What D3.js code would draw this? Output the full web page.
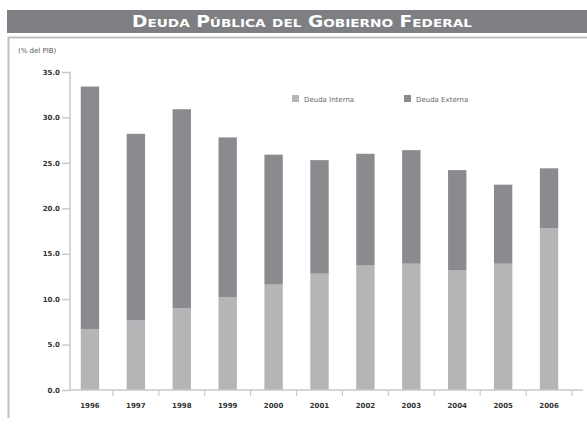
<!DOCTYPE html>
<html><head><meta charset="utf-8">
<script src="https://cdn.jsdelivr.net/npm/d3@7"></script>
<style>body{margin:0;background:#fff}</style>
</head><body>
<svg id="c" width="587" height="425"></svg>
<script>
const years = ["1996","1997","1998","1999","2000","2001","2002","2003","2004","2005","2006"];
const interna = [6.7, 7.7, 9.0, 10.2, 11.6, 12.8, 13.7, 13.9, 13.2, 13.9, 17.8];
const externa = [26.7, 20.5, 21.9, 17.6, 14.3, 12.5, 12.3, 12.5, 11.0, 8.7, 6.6];
const yTicks = [0,5,10,15,20,25,30,35];
const seriesNames = ["Deuda Interna","Deuda Externa"];
const colors = ["#b4b5b7","#8a8b8e"];

const svg = d3.select("#c");
// title bar
svg.append("rect").attr("x",7).attr("y",10).attr("width",580).attr("height",23).attr("fill","#7e7f82");
svg.append("text").attr("x",302).attr("y",27).attr("text-anchor","middle")
  .attr("fill","#fff").attr("font-family","DejaVu Sans").attr("font-weight","bold")
  .attr("font-size",15).style("font-variant","small-caps").attr("textLength",340).attr("lengthAdjust","spacingAndGlyphs")
  .text("Deuda Pública del Gobierno Federal");
// frame
svg.append("path").attr("d","M8.5,418 V37.5 H587").attr("fill","none").attr("stroke","#bfc0c2").attr("stroke-width",2);

svg.append("text").attr("x",18).attr("y",53).attr("font-family","DejaVu Sans").attr("font-size",7)
  .attr("fill","#555").text("(% del PIB)");

const x = d3.scaleBand().domain(years).range([67,572]).paddingInner(0.6).paddingOuter(0.3);
const y = d3.scaleLinear().domain([0,35]).range([390,72]);

// y axis
const ya = svg.append("g").attr("transform","translate(70,0)")
  .call(d3.axisLeft(y).tickValues(yTicks).tickFormat(d3.format(".1f")).tickSize(8).tickPadding(2));
ya.select(".domain").attr("stroke","#c8c9cb").attr("stroke-width",1.5).attr("d","M0,"+y(35)+"V"+y(0));
ya.selectAll(".tick line").attr("stroke","#c8c9cb").attr("stroke-width",1.5);
ya.selectAll("text").attr("font-family","DejaVu Sans").attr("font-weight","bold").attr("font-size",7).attr("fill","#333");

// stacked bars
const data = years.map((yr,i)=>({year:yr, "Deuda Interna":interna[i], "Deuda Externa":externa[i]}));
const stack = d3.stack().keys(seriesNames)(data);
svg.append("g").selectAll("g").data(stack).join("g").attr("fill",(d,i)=>colors[i])
  .selectAll("rect").data(d=>d).join("rect")
  .attr("x",d=>x(d.data.year)).attr("width",x.bandwidth())
  .attr("y",d=>y(d[1])).attr("height",d=>y(d[0])-y(d[1]));

// x axis
const xa = svg.append("g").attr("transform","translate(0,390)");
xa.append("line").attr("x1",70).attr("x2",583).attr("stroke","#c8c9cb").attr("stroke-width",1.5);
const step = x.step();
xa.selectAll("line.t").data(years).join("line").attr("class","t")
  .attr("x1",d=>x(d)+x.bandwidth()/2+step/2).attr("x2",d=>x(d)+x.bandwidth()/2+step/2)
  .attr("y1",0).attr("y2",6).attr("stroke","#c8c9cb").attr("stroke-width",1.2);
xa.selectAll("text").data(years).join("text")
  .attr("x",d=>x(d)+x.bandwidth()/2).attr("y",18).attr("text-anchor","middle")
  .attr("font-family","DejaVu Sans").attr("font-weight","bold").attr("font-size",7).attr("fill","#333").text(d=>d);

// legend
const lg = svg.append("g");
const lx = [292, 404];
seriesNames.forEach((n,i)=>{
  lg.append("rect").attr("x",lx[i]).attr("y",95).attr("width",7).attr("height",7).attr("fill",colors[i]);
  lg.append("text").attr("x",lx[i]+12).attr("y",101.5).attr("font-family","DejaVu Sans").attr("font-size",7)
    .attr("fill","#666").text(n);
});
</script>
</body></html>
